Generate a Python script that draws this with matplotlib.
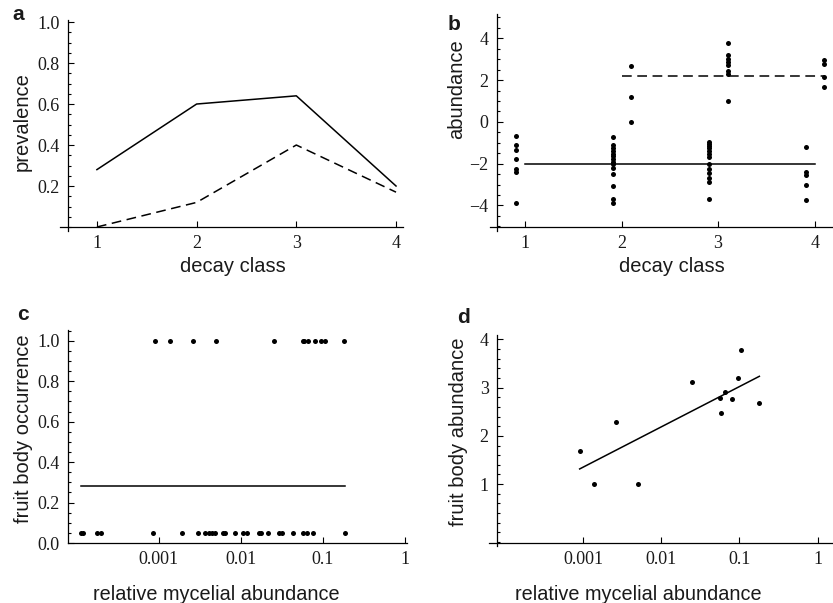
import numpy as np
import matplotlib
matplotlib.use("Agg")
import matplotlib.pyplot as plt
from matplotlib.ticker import MultipleLocator, NullLocator

# panel a: prevalence per decay class
decay_class = [1, 2, 3, 4]
prev_mycelium = [0.28, 0.60, 0.64, 0.20]
prev_fruitbody = [0.0, 0.12, 0.40, 0.17]

# panel b: abundance per decay class (mycelium below, fruit bodies above)
myc_c1 = [-0.70, -1.11, -1.37, -1.78, -2.25, -2.40, -3.90]
myc_c2 = [-0.73, -1.13, -1.25, -1.38, -1.52, -1.65, -1.78, -1.90, -2.03,
          -2.19, -2.49, -3.05, -3.71, -3.90]
myc_c3 = [-0.98, -1.06, -1.15, -1.24, -1.38, -1.56, -1.70, -2.00, -2.24,
          -2.44, -2.68, -2.86, -3.68]
myc_c4 = [-1.22, -2.41, -2.54, -3.02, -3.73]
fb_c2 = [2.68, 1.20, 0.00]
fb_c3 = [3.75, 3.19, 3.03, 2.87, 2.71, 2.44, 2.29, 1.00]
fb_c4 = [2.95, 2.76, 2.16, 1.68]
myc_mean = -2.0
fb_mean = 2.19

# panel c/d: relative mycelial abundance
rel_absent = [1.12e-4, 1.21e-4, 1.76e-4, 1.97e-4, 8.4e-4, 1.92e-3, 3.01e-3,
              3.70e-3, 4.06e-3, 4.46e-3, 4.90e-3, 6.01e-3, 6.35e-3, 8.57e-3,
              0.0105, 0.0120, 0.0165, 0.0177, 0.0214, 0.0294, 0.0317, 0.0436,
              0.0566, 0.0632, 0.0762, 0.185]
rel_present = [9.06e-4, 1.38e-3, 2.61e-3, 5.04e-3, 0.0251, 0.0568, 0.0590,
               0.0662, 0.0800, 0.0953, 0.1052, 0.180]
fb_abundance = [1.69, 1.00, 2.29, 1.00, 3.11, 2.79, 2.47, 2.90, 2.77, 3.19,
                3.77, 2.69]
occ_absent = 0.05
occ_present = 1.0
occ_mean = 0.28

W, H = 833, 603
plt.rcParams['lines.scale_dashes'] = False
fig = plt.figure(figsize=(W / 100, H / 100), dpi=100)

SERIF = 'Liberation Serif'
SANS = 'Liberation Sans'
TXT = '#1a1a1a'
MS = 3.6


def px_axes(x0, x1, ytop, ybot):
    return fig.add_axes([x0 / W, 1 - ybot / H, (x1 - x0) / W, (ybot - ytop) / H])


def style(ax):
    for s in ['top', 'right']:
        ax.spines[s].set_visible(False)
    for s in ['left', 'bottom']:
        ax.spines[s].set_linewidth(0.9)
    ax.tick_params(which='both', direction='in', width=0.8, colors='black',
                   labelcolor=TXT, labelsize=13, pad=6)
    ax.tick_params(which='major', length=4)
    ax.tick_params(which='minor', length=2)
    for lab in ax.get_xticklabels() + ax.get_yticklabels():
        lab.set_fontfamily(SERIF)
    ax.patch.set_visible(False)


def ftext(x, y, s, **kw):
    fig.text(x / W, 1 - y / H, s, ha='center', va='center', color=TXT, **kw)


dash = (0, (7, 4))

# ---- a
ax = px_axes(68, 403, 20, 227)
ax.plot(decay_class, prev_mycelium, color='black', lw=1.1)
ax.plot(decay_class, prev_fruitbody, color='black', lw=1.1, linestyle=dash)
ax.set_xlim(0.71, 4.07)
ax.set_ylim(0, 1.01)
ax.set_xticks([1, 2, 3, 4])
ax.set_yticks([0.2, 0.4, 0.6, 0.8, 1.0])
ax.set_yticklabels(['0.2', '0.4', '0.6', '0.8', '1.0'])
ax.yaxis.set_minor_locator(MultipleLocator(0.05))
style(ax)
ax.spines['bottom'].set_bounds(0.63, 4.07)
ax.spines['left'].set_bounds(-0.018, 1.01)
ftext(18, 15, 'a', fontsize=15, fontweight='bold', family=SANS)
ftext(22, 122, 'prevalence', fontsize=14.5, family=SANS, rotation=90)
ftext(233, 266, 'decay class', fontsize=14.5, family=SANS)

# ---- b
ax = px_axes(497, 833, 14, 227)
for cls, vals in zip([1, 2, 3, 4], [myc_c1, myc_c2, myc_c3, myc_c4]):
    ax.plot([cls - 0.09] * len(vals), vals, 'o', color='black', ms=MS, mew=0)
for cls, vals in zip([2, 3, 4], [fb_c2, fb_c3, fb_c4]):
    ax.plot([cls + 0.10] * len(vals), vals, 'o', color='black', ms=MS, mew=0)
ax.plot([1, 4], [myc_mean, myc_mean], color='black', lw=1.1)
ax.plot([2, 4.1], [fb_mean, fb_mean], color='black', lw=1.1, linestyle=dash)
ax.set_xlim(0.71, 4.19)
ax.set_ylim(-5.03, 5.16)
ax.set_xticks([1, 2, 3, 4])
ax.set_yticks([-4, -2, 0, 2, 4])
ax.set_yticklabels(['\u22124', '\u22122', '0', '2', '4'])
ax.yaxis.set_minor_locator(MultipleLocator(0.5))
style(ax)
ax.spines['bottom'].set_bounds(0.64, 4.19)
ax.spines['left'].set_bounds(-5.2, 5.16)
ftext(454, 24, 'b', fontsize=15, fontweight='bold', family=SANS)
ftext(457, 89, 'abundance', fontsize=14.5, family=SANS, rotation=90)
ftext(672, 266, 'decay class', fontsize=14.5, family=SANS)

# ---- c
ax = px_axes(68, 407, 330, 543)
ax.set_xscale('log')
ax.plot(rel_absent, [occ_absent] * len(rel_absent), 'o', color='black', ms=MS, mew=0)
ax.plot(rel_present, [occ_present] * len(rel_present), 'o', color='black', ms=MS, mew=0)
all_x = rel_absent + rel_present
ax.plot([min(all_x), max(all_x)], [occ_mean, occ_mean], color='black', lw=1.1)
ax.set_xlim(10 ** -4.105, 10 ** 0.024)
ax.set_ylim(0, 1.053)
ax.set_xticks([0.001, 0.01, 0.1, 1])
ax.set_xticklabels(['0.001', '0.01', '0.1', '1'])
ax.xaxis.set_minor_locator(NullLocator())
ax.set_yticks([0.0, 0.2, 0.4, 0.6, 0.8, 1.0])
ax.set_yticklabels(['0.0', '0.2', '0.4', '0.6', '0.8', '1.0'])
ax.yaxis.set_minor_locator(MultipleLocator(0.05))
style(ax)
ftext(23, 315, 'c', fontsize=15, fontweight='bold', family=SANS)
ftext(24, 429, 'fruit body occurrence', fontsize=14.5, family=SANS, rotation=90)
ftext(216, 594, 'relative mycelial abundance', fontsize=14.3, family=SANS)

# ---- d
ax = px_axes(497, 833, 335, 543)
ax.set_xscale('log')
ax.plot(rel_present, fb_abundance, 'o', color='black', ms=MS, mew=0)
lx = np.log10(rel_present)
slope, icpt = np.polyfit(lx, fb_abundance, 1)
ends = np.array([lx.min(), lx.max()])
ax.plot(10 ** ends, icpt + slope * ends, color='black', lw=1.1)
ax.set_xlim(10 ** -4.10, 10 ** 0.197)
ax.set_ylim(-0.22, 4.09)
ax.set_xticks([0.001, 0.01, 0.1, 1])
ax.set_xticklabels(['0.001', '0.01', '0.1', '1'])
ax.xaxis.set_minor_locator(NullLocator())
ax.set_yticks([1, 2, 3, 4])
ax.yaxis.set_minor_locator(MultipleLocator(0.2))
style(ax)
ax.spines['bottom'].set_bounds(10 ** -4.2, 10 ** 0.197)
ax.spines['left'].set_bounds(-0.29, 4.09)
ftext(463, 317, 'd', fontsize=15, fontweight='bold', family=SANS)
ftext(459, 432, 'fruit body abundance', fontsize=14.5, family=SANS, rotation=90)
ftext(638, 594, 'relative mycelial abundance', fontsize=14.3, family=SANS)

fig.savefig('out.png', dpi=100)
